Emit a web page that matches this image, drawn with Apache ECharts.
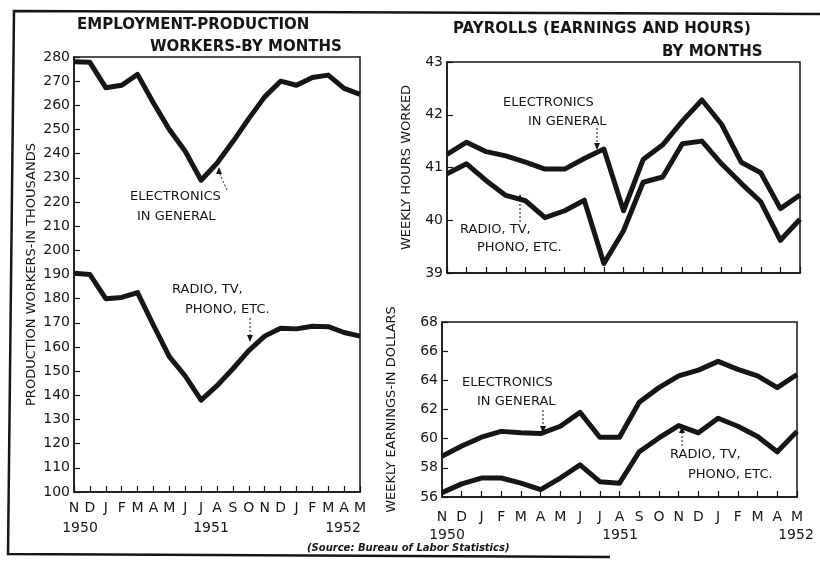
<!DOCTYPE html>
<html>
<head>
<meta charset="utf-8">
<script src="https://cdn.jsdelivr.net/npm/echarts@6/dist/echarts.min.js"></script>
<style>
  html, body { margin: 0; padding: 0; background: #fff; }
  #chart { width: 820px; height: 561px; }
</style>
</head>
<body>
<div id="chart"></div>
<script>
// months Nov 1950 .. May 1952
const months = ['N','D','J','F','M','A','M','J','J','A','S','O','N','D','J','F','M','A','M'];

// production workers, thousands
const empElectronics = [278, 277.8, 267.3, 268.3, 272.8, 261, 250, 241, 229, 236, 245, 254.5, 263.5, 270, 268.3, 271.5, 272.5, 267, 264.5];
const empRadio = [190.5, 190, 180, 180.5, 182.5, 169, 156, 148, 138, 144, 151, 158.5, 164.5, 167.8, 167.5, 168.6, 168.4, 166, 164.5];

// weekly hours worked
const hoursElectronics = [41.25, 41.48, 41.3, 41.22, 41.1, 40.97, 40.97, 41.17, 41.35, 40.18, 41.15, 41.43, 41.88, 42.28, 41.82, 41.1, 40.9, 40.22, 40.48];
const hoursRadio = [40.88, 41.07, 40.75, 40.47, 40.37, 40.05, 40.18, 40.38, 39.18, 39.8, 40.72, 40.82, 41.45, 41.5, 41.07, 40.7, 40.35, 39.62, 40.02];

// weekly earnings, dollars
const earnElectronics = [58.8, 59.5, 60.1, 60.5, 60.4, 60.35, 60.85, 61.8, 60.1, 60.1, 62.5, 63.5, 64.3, 64.7, 65.3, 64.75, 64.3, 63.5, 64.4];
const earnRadio = [56.3, 56.9, 57.3, 57.3, 56.95, 56.5, 57.3, 58.2, 57.05, 56.95, 59.1, 60.05, 60.9, 60.4, 61.4, 60.85, 60.15, 59.1, 60.5];

const ink = '#161616';
const font = 'DejaVu Sans';

const chart = echarts.init(document.getElementById('chart'));

function xAxis(gridIndex, showLabels, margin) {
    return {
        type: 'category', gridIndex: gridIndex, data: months, boundaryGap: false,
        axisLine: { lineStyle: { color: ink, width: 1.5 } },
        axisTick: { inside: true, length: 6, interval: 0, lineStyle: { color: ink, width: 1.2 } },
        axisLabel: { show: showLabels, interval: 0, color: ink, fontFamily: font, fontSize: 14, margin: margin },
        splitLine: { show: false }
    };
}

function yAxis(gridIndex, min, max, interval, name, nameGap) {
    return {
        type: 'value', gridIndex: gridIndex, min: min, max: max, interval: interval,
        name: name, nameLocation: 'middle', nameRotate: 90, nameGap: nameGap,
        nameTextStyle: { color: ink, fontFamily: font, fontSize: 13 },
        axisLine: { show: true, lineStyle: { color: ink, width: 1.5 } },
        axisTick: { show: true, inside: true, length: 6, lineStyle: { color: ink, width: 1.2 } },
        axisLabel: { color: ink, fontFamily: font, fontSize: 14, margin: 4 },
        splitLine: { show: false }
    };
}

function line(xi, data) {
    return {
        type: 'line', xAxisIndex: xi, yAxisIndex: xi, data: data,
        symbol: 'none', silent: true,
        lineStyle: { color: ink, width: 5, join: 'round' }
    };
}

function txt(x, y, s) {
    return {
        type: 'text', x: x, y: y, silent: true,
        style: { text: s, fill: ink, font: '13px "' + font + '"', textAlign: 'left', textVerticalAlign: 'middle' }
    };
}

function yearTxt(x, y, s) {
    return {
        type: 'text', x: x, y: y, silent: true,
        style: { text: s, fill: ink, font: '14px "' + font + '"', textAlign: 'center', textVerticalAlign: 'middle' }
    };
}

function titleTxt(x, y, s) {
    return {
        type: 'text', x: x, y: y, silent: true,
        style: { text: s, fill: ink, font: 'bold 15px "' + font + '"', textAlign: 'left', textVerticalAlign: 'middle' }
    };
}

// dashed pointer with a small head at (x2, y2)
function arrow(x1, y1, x2, y2) {
    const dir = y2 > y1 ? 1 : -1;
    return [
        { type: 'line', silent: true, shape: { x1: x1, y1: y1, x2: x2, y2: y2 - dir * 5 },
          style: { stroke: ink, lineWidth: 1, lineDash: [2, 2] } },
        { type: 'polygon', silent: true, z: 10,
          shape: { points: [[x2, y2], [x2 - 3, y2 - dir * 7], [x2 + 3, y2 - dir * 7]] },
          style: { fill: ink } }
    ];
}

const graphics = [
    // outer frame
    { type: 'polyline', silent: true, shape: { points: [[820, 14], [14, 11], [8, 554], [610, 557]] },
      style: { stroke: ink, lineWidth: 2.5, fill: null } },
    titleTxt(77, 25, 'EMPLOYMENT-PRODUCTION'),
    titleTxt(150, 47, 'WORKERS-BY MONTHS'),
    titleTxt(453, 29, 'PAYROLLS (EARNINGS AND HOURS)'),
    titleTxt(662, 52, 'BY MONTHS'),
    // year labels
    yearTxt(80, 528, '1950'),
    yearTxt(211, 528, '1951'),
    yearTxt(343, 528, '1952'),
    yearTxt(447, 535, '1950'),
    yearTxt(620, 535, '1951'),
    yearTxt(796, 535, '1952'),
    // source
    { type: 'text', x: 307, y: 548, silent: true,
      style: { text: '(Source: Bureau of Labor Statistics)', fill: ink, font: 'italic bold 10px "' + font + '"', textVerticalAlign: 'middle' } },
    // annotations, employment
    txt(130, 197, 'ELECTRONICS'),
    txt(137, 217, 'IN GENERAL'),
    txt(172, 290, 'RADIO, TV,'),
    txt(185, 310, 'PHONO, ETC.'),
    // annotations, hours
    txt(503, 103, 'ELECTRONICS'),
    txt(528, 122, 'IN GENERAL'),
    txt(460, 230, 'RADIO, TV,'),
    txt(477, 248, 'PHONO, ETC.'),
    // annotations, earnings
    txt(462, 383, 'ELECTRONICS'),
    txt(477, 402, 'IN GENERAL'),
    txt(670, 455, 'RADIO, TV,'),
    txt(688, 475, 'PHONO, ETC.')
].concat(
    arrow(227, 190, 219, 167),
    arrow(250, 318, 250, 342),
    arrow(597, 128, 597, 150),
    arrow(520, 222, 520, 194),
    arrow(543, 410, 543, 433),
    arrow(682, 446, 682, 426)
);

const option = {
    backgroundColor: '#fff',
    animation: false,
    grid: [
        { left: 74, top: 57, width: 286, height: 435, show: true, borderColor: ink, borderWidth: 1.5 },
        { left: 447, top: 62, width: 353, height: 211, show: true, borderColor: ink, borderWidth: 1.5 },
        { left: 442, top: 322, width: 355, height: 175, show: true, borderColor: ink, borderWidth: 1.5 }
    ],
    xAxis: [xAxis(0, true, 9), xAxis(1, false, 9), xAxis(2, true, 13)],
    yAxis: [
        yAxis(0, 100, 280, 10, 'PRODUCTION WORKERS-IN THOUSANDS', 36),
        yAxis(1, 39, 43, 1, 'WEEKLY HOURS WORKED', 34),
        yAxis(2, 56, 68, 2, 'WEEKLY EARNINGS-IN DOLLARS', 44)
    ],
    series: [
        line(0, empElectronics),
        line(0, empRadio),
        line(1, hoursElectronics),
        line(1, hoursRadio),
        line(2, earnElectronics),
        line(2, earnRadio)
    ],
    graphic: graphics
};

chart.setOption(option);
</script>
</body>
</html>
